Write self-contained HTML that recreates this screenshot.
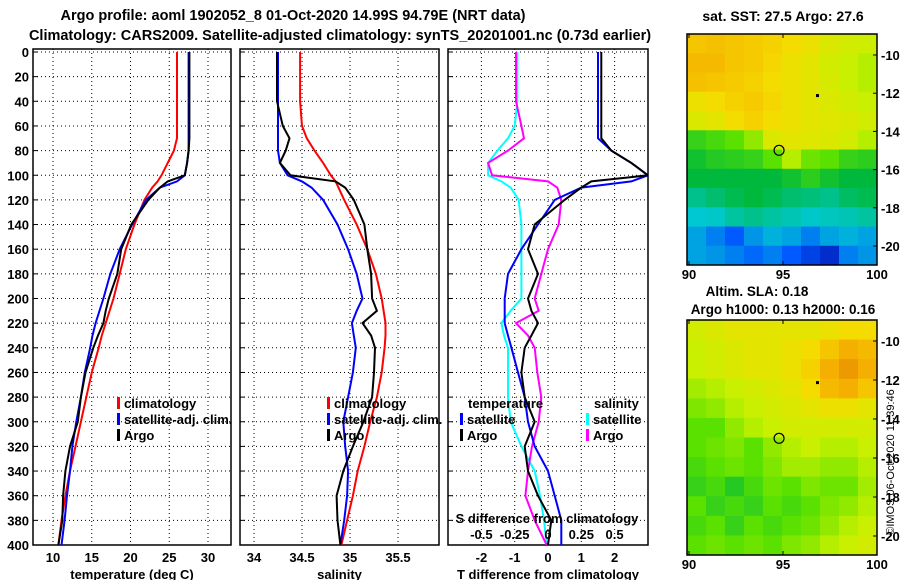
<!DOCTYPE html>
<html><head><meta charset="utf-8"><style>
html,body{margin:0;padding:0;background:#fff;}
svg{display:block;font-family:"Liberation Sans",sans-serif;font-weight:bold;}
text{font-size:13px;fill:#000;}
</style></head><body>
<svg id="c" width="900" height="580" viewBox="0 0 900 580">
<defs>
<clipPath id="cp1"><rect x="33" y="49" width="198" height="496"/></clipPath>
<clipPath id="cp2"><rect x="240" y="49" width="199" height="496"/></clipPath>
<clipPath id="cp3"><rect x="448" y="49" width="200" height="496"/></clipPath>
</defs>
<text x="293" y="20" text-anchor="middle" style="font-size:14.5px">Argo profile: aoml 1902052_8 01-Oct-2020 14.99S 94.79E (NRT data)</text>
<text x="340" y="40" text-anchor="middle" style="font-size:14.5px">Climatology: CARS2009. Satellite-adjusted climatology: synTS_20201001.nc (0.73d earlier)</text>
<text x="783" y="21" text-anchor="middle" style="font-size:14px">sat. SST: 27.5 Argo: 27.6</text>
<text x="757" y="296" text-anchor="middle" style="font-size:13.5px">Altim. SLA: 0.18</text>
<text x="783" y="314" text-anchor="middle" style="font-size:13.5px">Argo h1000: 0.13 h2000: 0.16</text>
<text transform="translate(894,462) rotate(-90)" text-anchor="middle" style="font-size:11px;font-weight:normal">©IMOS 06-Oct-2020 11:39:46</text>
<g id="g"></g>
</svg>
<script>
const depths=[0,20,40,60,70,80,90,100,105,110,120,140,160,180,200,210,220,230,240,260,280,300,320,340,360,380,400];
const tClim=[26.0,26.0,26.0,26.0,26.0,25.6,24.8,24.0,23.5,22.8,21.8,20.5,19.4,18.6,17.8,17.3,16.8,16.3,15.9,15.0,14.3,13.6,12.9,12.2,11.6,11.1,10.7];
const tSat=[27.5,27.5,27.5,27.5,27.5,27.5,27.3,27.0,26.0,23.8,22.0,20.2,18.6,17.4,16.5,16.0,15.5,15.1,14.8,14.1,13.6,13.0,12.5,12.2,11.8,11.5,11.1];
const tArgo=[27.6,27.6,27.6,27.6,27.6,27.5,27.3,27.0,24.8,23.8,22.3,20.1,18.8,18.3,17.2,16.8,16.5,15.8,15.2,14.2,13.6,13.2,12.2,11.6,11.3,11.2,10.7];
const sClim=[34.48,34.48,34.48,34.50,34.55,34.63,34.72,34.80,34.85,34.88,34.94,35.07,35.18,35.27,35.33,35.35,35.37,35.37,35.36,35.33,35.28,35.21,35.15,35.08,35.03,34.97,34.91];
const sSat=[34.25,34.25,34.25,34.25,34.25,34.25,34.27,34.35,34.50,34.60,34.72,34.87,34.98,35.07,35.13,35.07,35.02,35.04,35.06,35.03,34.98,34.93,34.95,34.98,34.97,34.94,34.90];
const sArgo=[34.24,34.24,34.24,34.30,34.37,34.33,34.27,34.38,34.85,34.95,35.04,35.15,35.18,35.22,35.23,35.28,35.13,35.22,35.26,35.25,35.23,35.14,35.03,34.93,34.86,34.87,34.90];
const depthTicks=[0,20,40,60,80,100,120,140,160,180,200,220,240,260,280,300,320,340,360,380,400];
const tTicks=[10,15,20,25,30];
const sTicks=[34,34.5,35,35.5];
const dTicks=[-2,-1,0,1,2];
const sdTicks=[-0.5,-0.25,0,0.25,0.5];
const latTicks=[-10,-12,-14,-16,-18,-20];
const lonTicks=[90,95,100];
const sstGrid=[
[.86,.87,.86,.85,.84,.82,.80,.76,.74,.73],
[.88,.88,.86,.85,.83,.80,.78,.74,.72,.70],
[.87,.86,.85,.84,.82,.80,.78,.75,.72,.70],
[.80,.82,.84,.85,.83,.80,.78,.76,.74,.72],
[.76,.78,.82,.84,.82,.80,.78,.77,.76,.74],
[.56,.58,.60,.66,.76,.78,.77,.76,.74,.70],
[.52,.54,.55,.56,.60,.70,.62,.60,.56,.55],
[.50,.50,.50,.50,.50,.52,.55,.52,.50,.50],
[.42,.45,.48,.50,.48,.45,.44,.42,.46,.48],
[.35,.36,.40,.42,.40,.38,.36,.37,.38,.40],
[.30,.25,.20,.28,.32,.30,.25,.30,.32,.30],
[.30,.28,.25,.22,.25,.20,.15,.10,.25,.28]];
const slaGrid=[
[.74,.76,.78,.78,.78,.78,.78,.80,.82,.82],
[.72,.74,.76,.78,.78,.80,.82,.86,.90,.88],
[.72,.74,.76,.78,.78,.80,.84,.90,.94,.90],
[.68,.70,.72,.74,.76,.78,.82,.88,.90,.86],
[.64,.66,.70,.72,.74,.76,.78,.80,.80,.78],
[.60,.60,.66,.70,.72,.74,.74,.74,.74,.74],
[.60,.62,.64,.60,.66,.70,.72,.70,.70,.72],
[.58,.60,.62,.60,.64,.68,.68,.66,.66,.70],
[.56,.58,.54,.58,.62,.60,.64,.62,.62,.68],
[.60,.56,.58,.56,.60,.58,.60,.64,.66,.70],
[.58,.60,.56,.60,.58,.60,.62,.66,.70,.72],
[.60,.62,.60,.62,.60,.64,.66,.70,.72,.74]];
const floatLon=94.79, floatLat=-14.99;

const NS='http://www.w3.org/2000/svg';
const G=document.getElementById('g');
function mk(t,a,p){const e=document.createElementNS(NS,t);for(const k in a)e.setAttribute(k,a[k]);(p||G).appendChild(e);return e;}
const yD=d=>52+d*1.2325;
const xT=v=>53+(v-10)*7.75;
const xS=v=>254+(v-34)*96;
const xD=v=>548+v*33.3;
const xSD=v=>548+v*133.2;
const dot={stroke:'#000','stroke-width':1,'stroke-dasharray':'1 3'};

function panel(name,x0,x1,ticks,xf,labelFmt,title){
  const b=mk('rect',{x:x0,y:49,width:x1-x0,height:496,fill:'none',stroke:'#000','stroke-width':1.5});
  
  
  depthTicks.forEach(d=>{const l=mk('line',Object.assign({x1:x0,x2:x1,y1:yD(d),y2:yD(d)},dot));
    
    
    const tk=mk('line',{x1:x0,x2:x0+5,y1:yD(d),y2:yD(d),stroke:'#000'});
    
    });
  ticks.forEach(v=>{const l=mk('line',Object.assign({x1:xf(v),x2:xf(v),y1:49,y2:545},dot));
    
    
    if(labelFmt){const t=mk('text',{x:xf(v),y:562,'text-anchor':'middle'});t.textContent=labelFmt(v);
    
    }});
  const t=mk('text',{x:(x0+x1)/2,y:579,'text-anchor':'middle'});t.textContent=title;
  
  
}
panel('temperature-panel',33,231,tTicks,xT,v=>String(v),'temperature (deg C)');
panel('salinity-panel',240,439,sTicks,xS,v=>String(v),'salinity');
panel('difference-panel',448,648,dTicks,xD,v=>String(v),'T difference from climatology');
depthTicks.forEach(d=>{const t=mk('text',{x:29,y:yD(d)+5,'text-anchor':'end'});t.textContent=d;
  
  });

function line(xs,vals,xf,col,clip,name){
  const pts=vals.map((v,i)=>xf(v).toFixed(1)+','+yD(depths[i]).toFixed(1)).join(' ');
  const p=mk('polyline',{points:pts,fill:'none',stroke:col,'stroke-width':2,'clip-path':'url(#'+clip+')'});
  
  
}
line(depths,tClim,xT,'#f00','cp1','temp-climatology-line');
line(depths,tSat,xT,'#00f','cp1','temp-satellite-line');
line(depths,tArgo,xT,'#000','cp1','temp-argo-line');
line(depths,sClim,xS,'#f00','cp2','sal-climatology-line');
line(depths,sSat,xS,'#00f','cp2','sal-satellite-line');
line(depths,sArgo,xS,'#000','cp2','sal-argo-line');
line(depths,sSat.map((v,i)=>v-sClim[i]),xSD,'#0ff','cp3','sdiff-satellite-line');
line(depths,sArgo.map((v,i)=>v-sClim[i]),xSD,'#f0f','cp3','sdiff-argo-line');
line(depths,tSat.map((v,i)=>v-tClim[i]),xD,'#00f','cp3','tdiff-satellite-line');
line(depths,tArgo.map((v,i)=>v-tClim[i]),xD,'#000','cp3','tdiff-argo-line');

function legend(x,y,col,label,name){
  const m=mk('rect',{x:x,y:y-11,width:3,height:12,fill:col});
  
  
  const t=mk('text',{x:x+7,y:y});t.textContent=label;
  
  
}
legend(117,408,'#f00','climatology','legend-temp-climatology');
legend(117,424,'#00f','satellite-adj. clim.','legend-temp-satellite');
legend(117,440,'#000','Argo','legend-temp-argo');
legend(327,408,'#f00','climatology','legend-sal-climatology');
legend(327,424,'#00f','satellite-adj. clim.','legend-sal-satellite');
legend(327,440,'#000','Argo','legend-sal-argo');
{const t=mk('text',{x:468,y:408});t.textContent='temperature';
 
 
 const t2=mk('text',{x:594,y:408});t2.textContent='salinity';
 
 }
legend(460,424,'#00f','satellite','legend-tdiff-satellite');
legend(460,440,'#000','Argo','legend-tdiff-argo');
legend(586,424,'#0ff','satellite','legend-sdiff-satellite');
legend(586,440,'#f0f','Argo','legend-sdiff-argo');
{const t=mk('text',{x:547,y:523,'text-anchor':'middle'});t.textContent='S difference from climatology';
 
 }
sdTicks.forEach(v=>{const t=mk('text',{x:xSD(v),y:539,'text-anchor':'middle'});t.textContent=String(v);
  
  });

function cmap(v){
  const st=[[0,[0,0,150]],[.2,[0,90,255]],[.35,[0,200,210]],[.5,[0,185,60]],[.6,[90,225,0]],[.72,[200,240,0]],[.82,[245,220,0]],[.9,[245,175,0]],[1,[225,120,0]]];
  for(let i=1;i<st.length;i++){if(v<=st[i][0]){const a=st[i-1],b=st[i],f=(v-a[0])/(b[0]-a[0]);
    return 'rgb('+a[1].map((c,k)=>Math.round(c+(b[1][k]-c)*f)).join(',')+')';}}
  return 'rgb(225,120,0)';
}
function map(name,grid,y0,y1){
  const x0=687,x1=877,rows=grid.length,cols=grid[0].length;
  const cw=(x1-x0)/cols,ch=(y1-y0)/rows;
  grid.forEach((row,r)=>row.forEach((v,c)=>{const e=mk('rect',{x:x0+c*cw,y:y0+r*ch,width:cw+0.5,height:ch+0.5,fill:cmap(v)});
    
    }));
  const b=mk('rect',{x:x0,y:y0,width:x1-x0,height:y1-y0,fill:'none',stroke:'#000','stroke-width':1.5});
  
  
  const lx=v=>689+(v-90)*18.8;
  const ly=v=>y0+21+(-10-v)*((y1-y0-40)/10);
  lonTicks.forEach(v=>{const t=mk('text',{x:lx(v),y:y1+14,'text-anchor':'middle'});t.textContent=v;
    
    
    mk('line',{x1:lx(v),x2:lx(v),y1:y0,y2:y0+4,stroke:'#000'});
    mk('line',{x1:lx(v),x2:lx(v),y1:y1,y2:y1-4,stroke:'#000'});});
  latTicks.forEach(v=>{const t=mk('text',{x:881,y:ly(v)+5});t.textContent=v;
    
    
    mk('line',{x1:x1,x2:x1-4,y1:ly(v),y2:ly(v),stroke:'#000'});});
  const c=mk('circle',{cx:lx(floatLon),cy:ly(floatLat),r:5,fill:'none',stroke:'#000','stroke-width':1.2});
  
  
  mk('rect',{x:816,y:y0+(y1-y0)*0.26,width:3,height:3,fill:'#000'});
}
map('sst-map',sstGrid,34,265);
map('sla-map',slaGrid,320,555);
</script>
</body></html>
